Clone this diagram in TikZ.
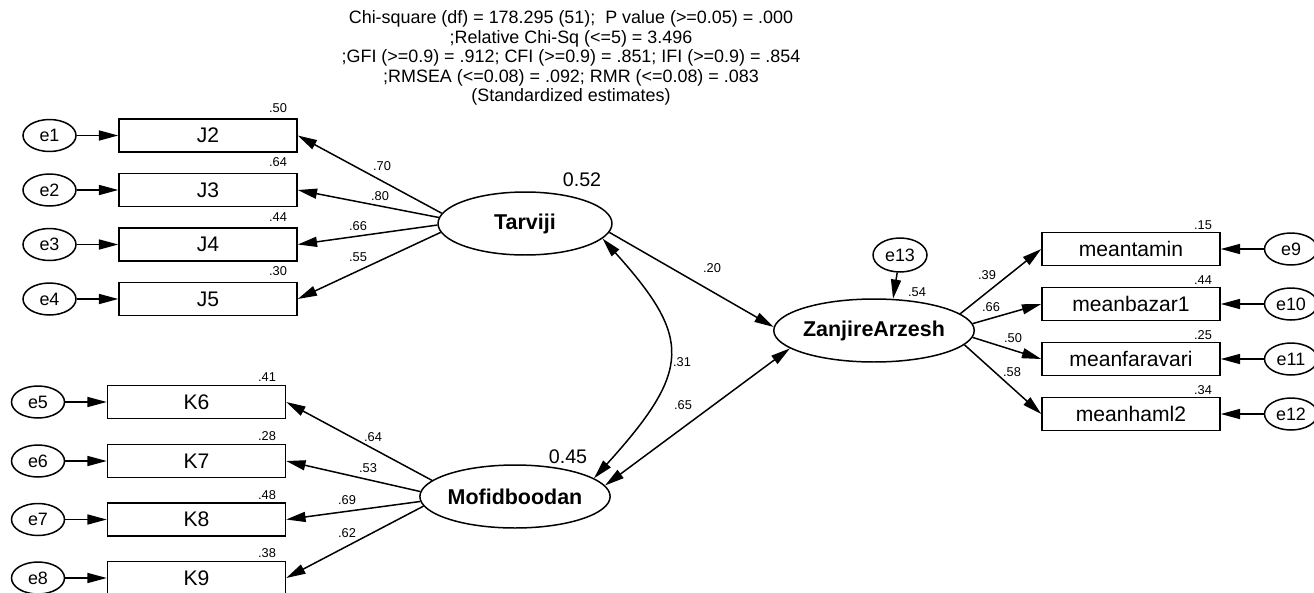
\documentclass[tikz,border=0pt]{standalone}
\usepackage{fontspec}
\setmainfont{Liberation Sans}
\usetikzlibrary{arrows.meta,shapes.geometric}
\begin{document}
\begin{tikzpicture}[x=0.02cm, y=-0.02cm, line width=0.85pt, >={Triangle[length=11pt,width=5.7pt]},
    obs/.style={draw, rectangle, minimum width=3.56cm, minimum height=0.66cm, inner sep=0pt, font=\fontsize{12}{14}\selectfont},
    lat/.style={draw, ellipse, minimum width=3.48cm, minimum height=1.26cm, inner sep=0pt, font=\fontsize{12.2}{14}\selectfont\bfseries},
    err/.style={draw, ellipse, minimum width=1.06cm, minimum height=0.64cm, inner sep=0pt, font=\fontsize{10.2}{12}\selectfont},
    coef/.style={inner sep=0pt, font=\fontsize{7.3}{9}\selectfont},
    rsq/.style={inner sep=0pt, font=\fontsize{11.2}{13}\selectfont}]
    \useasboundingbox (0,0) rectangle (1314,592);
    % fit indices
    \node[align=center, font=\fontsize{10.2}{11.05}\selectfont] (fit) at (571,58)
        {Chi-square (df) = 178.295 (51);~ P value (>=0.05) = .000\\
         ;Relative Chi-Sq (<=5) = 3.496\\
         ;GFI (>=0.9) = .912; CFI (>=0.9) = .851; IFI (>=0.9) = .854\\
         ;RMSEA (<=0.08) = .092; RMR (<=0.08) = .083\\
         (Standardized estimates)};
    % latent variables
    \node[lat] (tar) at (525,223.5) {Tarviji};
    \node[lat] (mof) at (515,496.5) {Mofidboodan};
    \node[lat] (zan) at (874,330.5) {ZanjireArzesh};
    \node[err, minimum width=1.08cm, minimum height=0.68cm] (e13) at (900,255) {e13};
    \node[rsq] (rtar) at (582,180) {0.52};
    \node[rsq] (rmof) at (568,457) {0.45};
    \node[coef] (rzan) at (917,292) {.54};
    % Tarviji indicators
    \node[obs] (J2) at (208,135.5) {J2};
    \node[obs] (J3) at (208,190) {J3};
    \node[obs] (J4) at (208,244.5) {J4};
    \node[obs] (J5) at (208,299) {J5};
    \node[err] (e1) at (49.5,135.5) {e1};
    \node[err] (e2) at (49.5,190) {e2};
    \node[err] (e3) at (49.5,244.5) {e3};
    \node[err] (e4) at (49.5,299) {e4};
    \node[coef] (rJ2) at (278,108) {.50};
    \node[coef] (rJ3) at (278,162.5) {.64};
    \node[coef] (rJ4) at (278,217) {.44};
    \node[coef] (rJ5) at (278,271.5) {.30};
    % Mofidboodan indicators
    \node[obs] (K6) at (196.5,402) {K6};
    \node[obs] (K7) at (196.5,461) {K7};
    \node[obs] (K8) at (196.5,519.5) {K8};
    \node[obs] (K9) at (196.5,578) {K9};
    \node[err] (e5) at (38,402) {e5};
    \node[err] (e6) at (38,461) {e6};
    \node[err] (e7) at (38,519.5) {e7};
    \node[err] (e8) at (38,578) {e8};
    \node[coef] (rK6) at (267,377) {.41};
    \node[coef] (rK7) at (267,436) {.28};
    \node[coef] (rK8) at (267,495) {.48};
    \node[coef] (rK9) at (267,553) {.38};
    % ZanjireArzesh indicators
    \node[obs] (tamin) at (1131,249) {meantamin};
    \node[obs] (bazar) at (1131,304) {meanbazar1};
    \node[obs] (faravari) at (1131,359) {meanfaravari};
    \node[obs] (haml) at (1131,414) {meanhaml2};
    \node[err] (e9) at (1291,249) {e9};
    \node[err] (e10) at (1291,304) {e10};
    \node[err] (e11) at (1291,359) {e11};
    \node[err] (e12) at (1291,414) {e12};
    \node[coef] (rtamin) at (1203,225) {.15};
    \node[coef] (rbazar) at (1203,280) {.44};
    \node[coef] (rfaravari) at (1203,335) {.25};
    \node[coef] (rhaml) at (1203,390) {.34};
    % error terms
    \draw[->] (e1) -- (J2);
    \draw[->] (e2) -- (J3);
    \draw[->] (e3) -- (J4);
    \draw[->] (e4) -- (J5);
    \draw[->] (e5) -- (K6);
    \draw[->] (e6) -- (K7);
    \draw[->] (e7) -- (K8);
    \draw[->] (e8) -- (K9);
    \draw[->] (e9) -- (tamin);
    \draw[->] (e10) -- (bazar);
    \draw[->] (e11) -- (faravari);
    \draw[->] (e12) -- (haml);
    \draw[->] (e13) -- (zan.59);
    % loadings
    \draw[->] (tar.173) -- (J2.east);
    \draw[->] (tar.176) -- (J3.east);
    \draw[->] (tar.181) -- (J4.east);
    \draw[->] (tar.186) -- (J5.east);
    \draw[->] (mof.169) -- (K6.east);
    \draw[->] (mof.177) -- (K7.east);
    \draw[->] (mof.183) -- (K8.east);
    \draw[->] (mof.186) -- (K9.east);
    \draw[->] (zan.11) -- (tamin.west);
    \draw[->] (zan.4) -- (bazar.west);
    \draw[->] (zan.356) -- (faravari.west);
    \draw[->] (zan.351) -- (haml.west);
    \node[coef] (cJ2) at (382,166) {.70};
    \node[coef] (cJ3) at (380,196) {.80};
    \node[coef] (cJ4) at (358,226) {.66};
    \node[coef] (cJ5) at (358,257) {.55};
    \node[coef] (cK6) at (373,437) {.64};
    \node[coef] (cK7) at (368,468) {.53};
    \node[coef] (cK8) at (347,500) {.69};
    \node[coef] (cK9) at (347,533) {.62};
    \node[coef] (ctamin) at (987,275) {.39};
    \node[coef] (cbazar) at (991,307) {.66};
    \node[coef] (cfaravari) at (1013,338) {.50};
    \node[coef] (chaml) at (1012,372) {.58};
    % structural paths
    \draw[->] (tar.354) -- (zan.178);
    \draw[<->] (mof.7) -- (zan.192);
    \draw[<->] (tar.349) .. controls (692,338) and (692,370) .. (mof.13);
    \node[coef] (ctz) at (712,268) {.20};
    \node[coef] (ctm) at (682,362) {.31};
    \node[coef] (cmz) at (683,405) {.65};
\end{tikzpicture}
\end{document}
